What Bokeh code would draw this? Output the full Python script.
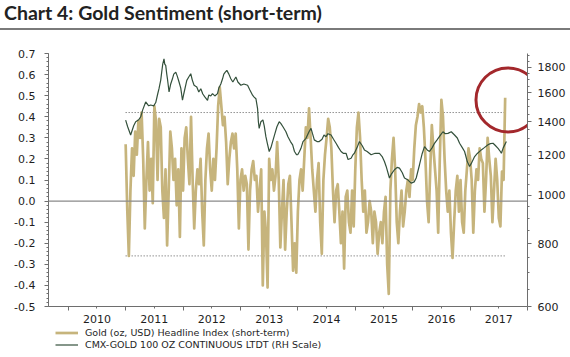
import numpy as np
from bokeh.plotting import figure
from bokeh.models import (Range1d, LogScale, LinearAxis, LogAxis, FixedTicker,
                          NumeralTickFormatter, CustomJSTickFormatter, Span, Div,
                          Legend, LegendItem, ColumnDataSource)
from bokeh.layouts import column
from bokeh.embed import file_html
from bokeh.resources import INLINE

TITLE = "Chart 4: Gold Sentiment (short-term)"
LEGEND_SENT = "Gold (oz, USD) Headline Index (short-term)"
LEGEND_GOLD = "CMX-GOLD 100 OZ CONTINUOUS LTDT (RH Scale)"

# Sentiment index, ~36 readings per calendar year (evenly spaced within the year)
sent_2011 = [0.27, -0.04, -0.26, 0.05, 0.25, 0.12, 0.33, 0.22, 0.38, 0.30, 0.42, 0.20,
             -0.13, 0.10, 0.28, 0.05, 0.20, -0.01, 0.45, 0.38, 0.10, 0.39, 0.35, 0.05,
             -0.08, 0.15, -0.21, 0.05, 0.33, 0.25, 0.10, 0.20, -0.02, 0.15, -0.17, 0.25]
sent_2012 = [0.05, 0.30, 0.35, 0.20, 0.08, 0.40, 0.10, -0.13, 0.05, 0.15, 0.08, 0.20,
             -0.05, -0.21, 0.10, 0.25, 0.32, 0.15, 0.05, 0.20, 0.10, 0.25, 0.45, 0.54,
             0.45, 0.36, 0.40, 0.28, 0.08, 0.20, 0.28, 0.32, 0.25, 0.32, 0.15, -0.13]
sent_2013 = [0.10, 0.15, 0.05, 0.12, 0.08, -0.23, 0.05, 0.15, 0.19, 0.10, 0.12, -0.05,
             0.05, 0.15, -0.40, -0.05, -0.15, -0.41, 0.20, 0.10, 0.15, 0.05, 0.12, 0.28,
             0.10, -0.22, -0.05, 0.10, -0.23, -0.05, 0.08, 0.12, -0.10, -0.33, -0.20, -0.34]
sent_2014 = [-0.05, 0.10, 0.15, 0.05, 0.20, 0.35, 0.30, 0.44, 0.30, 0.15, 0.05, -0.05,
             0.10, 0.18, -0.10, -0.25, 0.10, 0.22, 0.30, 0.39, 0.35, 0.25, 0.05, -0.10,
             0.05, 0.08, -0.05, -0.20, -0.05, -0.32, 0.02, 0.05, -0.10, -0.15, 0.05, -0.12]
sent_2015 = [0.15, 0.35, 0.42, 0.30, 0.10, -0.05, 0.05, -0.15, -0.10, 0.00, -0.05, -0.20,
             -0.05, -0.10, -0.25, -0.15, -0.10, -0.20, -0.05, 0.02, -0.30, -0.44, 0.05, 0.20,
             0.30, 0.15, -0.10, -0.20, -0.05, 0.05, -0.12, -0.05, 0.05, 0.10, 0.02, 0.15]
sent_2016 = [0.10, 0.25, 0.36, 0.40, 0.46, 0.42, 0.45, 0.35, 0.20, 0.00, -0.10, 0.15,
             0.36, 0.25, 0.15, 0.05, -0.15, 0.20, 0.48, 0.40, 0.20, 0.05, -0.05, 0.05,
             -0.15, -0.27, -0.10, 0.05, 0.12, -0.05, 0.10, -0.10, -0.15, 0.05, 0.15, 0.25]
sent_2017 = [0.20, 0.10, -0.15, 0.05, 0.15, 0.10, 0.25, 0.20, 0.18, -0.05, 0.10, 0.30,
             0.20, 0.12, -0.10, 0.05, 0.20, 0.10, -0.08, -0.12, 0.14, 0.10, 0.49]
sent_years = {2011: sent_2011, 2012: sent_2012, 2013: sent_2013, 2014: sent_2014,
              2015: sent_2015, 2016: sent_2016, 2017: sent_2017}

# Thresholds (dotted lines)
band_start, band_end = 2011.0, 2017.63
band_upper = 0.42
band_lower = -0.26

# latest reading highlighted by the red circle
highlight_t, highlight_v = 2017.66, 0.48

# CMX gold price (USD/oz), decimal-year dates
gold_t_2011 = [2011.000, 2011.035, 2011.087, 2011.140, 2011.175, 2011.227, 2011.262, 2011.297,
               2011.349, 2011.401, 2011.436, 2011.489, 2011.524, 2011.558, 2011.581, 2011.611,
               2011.628, 2011.646, 2011.668, 2011.681, 2011.698, 2011.716, 2011.728, 2011.756,
               2011.785, 2011.815, 2011.838, 2011.873, 2011.899, 2011.930, 2011.960, 2011.990]
gold_p_2011 = [1411, 1369, 1318, 1375, 1401, 1413, 1433, 1479, 1534, 1507, 1513, 1507,
               1530, 1591, 1630, 1696, 1759, 1825, 1869, 1825, 1814, 1743, 1706, 1606,
               1666, 1706, 1743, 1759, 1727, 1681, 1635, 1546]
gold_t_2012 = [2012.012, 2012.065, 2012.099, 2012.134, 2012.161, 2012.192, 2012.239, 2012.274,
               2012.309, 2012.344, 2012.379, 2012.426, 2012.449, 2012.483, 2012.513, 2012.553,
               2012.600, 2012.623, 2012.658, 2012.688, 2012.710, 2012.736, 2012.763, 2012.798,
               2012.832, 2012.867, 2012.920, 2012.955]
gold_p_2012 = [1591, 1694, 1720, 1746, 1696, 1656, 1643, 1606, 1630, 1591, 1570, 1546,
               1584, 1577, 1594, 1577, 1594, 1635, 1666, 1706, 1743, 1759, 1773, 1743,
               1706, 1681, 1720, 1681]
gold_t_2013 = [2013.007, 2013.059, 2013.124, 2013.164, 2013.211, 2013.234, 2013.269, 2013.298,
               2013.312, 2013.326, 2013.356, 2013.391, 2013.414, 2013.443, 2013.469, 2013.501,
               2013.531, 2013.560, 2013.600, 2013.635, 2013.675, 2013.705, 2013.740, 2013.792,
               2013.827, 2013.871, 2013.909, 2013.941, 2013.976, 2013.997]
gold_p_2013 = [1656, 1666, 1656, 1621, 1582, 1570, 1557, 1488, 1401, 1359, 1401, 1413,
               1375, 1308, 1267, 1222, 1244, 1279, 1326, 1369, 1401, 1389, 1369, 1338,
               1308, 1279, 1260, 1222, 1205, 1204]
gold_t_2014 = [2014.028, 2014.054, 2014.089, 2014.141, 2014.194, 2014.229, 2014.255, 2014.286,
               2014.333, 2014.373, 2014.421, 2014.455, 2014.490, 2014.525, 2014.578, 2014.621,
               2014.665, 2014.709, 2014.752, 2014.796, 2014.839, 2014.874, 2014.927, 2014.962,
               2014.984]
gold_p_2014 = [1222, 1240, 1279, 1298, 1338, 1359, 1326, 1289, 1279, 1279, 1293, 1318,
               1308, 1326, 1318, 1293, 1269, 1244, 1222, 1211, 1212, 1178, 1185, 1205, 1212]
gold_t_2015 = [2015.031, 2015.072, 2015.119, 2015.159, 2015.206, 2015.276, 2015.346, 2015.421,
               2015.468, 2015.508, 2015.538, 2015.595, 2015.625, 2015.682, 2015.730, 2015.770,
               2015.817, 2015.857, 2015.904, 2015.974]
gold_p_2015 = [1244, 1279, 1256, 1231, 1222, 1204, 1212, 1212, 1194, 1167, 1141, 1082,
               1100, 1124, 1136, 1132, 1110, 1082, 1075, 1057]
gold_t_2016 = [2016.026, 2016.061, 2016.119, 2016.166, 2016.206, 2016.253, 2016.293, 2016.340,
               2016.380, 2016.428, 2016.480, 2016.527, 2016.567, 2016.614, 2016.672, 2016.729,
               2016.777, 2016.817, 2016.864, 2016.904, 2016.951, 2016.991]
gold_p_2016 = [1063, 1082, 1150, 1211, 1250, 1231, 1222, 1244, 1269, 1290, 1316, 1338,
               1326, 1328, 1338, 1318, 1300, 1269, 1244, 1222, 1167, 1141]
gold_t_2017 = [2017.021, 2017.079, 2017.126, 2017.195, 2017.248, 2017.312, 2017.353, 2017.400,
               2017.440, 2017.487, 2017.527, 2017.545, 2017.579, 2017.632]
gold_p_2017 = [1157, 1194, 1211, 1231, 1244, 1260, 1267, 1269, 1256, 1240, 1222, 1212,
               1244, 1279]

x_years = [2010, 2011, 2012, 2013, 2014, 2015, 2016, 2017]
left_ticks = [-0.5, -0.4, -0.3, -0.2, -0.1, 0.0, 0.1, 0.2, 0.3, 0.4, 0.5, 0.6, 0.7]
right_ticks = [600, 800, 1000, 1200, 1400, 1600, 1800]

# ---------- build sources ----------
sent_t, sent_v = [], []
for yr, vals in sent_years.items():
    for k, v in enumerate(vals):
        sent_t.append(yr + k / 36.0)
        sent_v.append(v)
sent_src = ColumnDataSource(dict(t=sent_t, v=sent_v))

gold_t = (gold_t_2011 + gold_t_2012 + gold_t_2013 + gold_t_2014 + gold_t_2015
          + gold_t_2016 + gold_t_2017)
gold_p = (gold_p_2011 + gold_p_2012 + gold_p_2013 + gold_p_2014 + gold_p_2015
          + gold_p_2016 + gold_p_2017)
gold_src = ColumnDataSource(dict(t=gold_t, p=gold_p))

FONT = "DejaVu Sans"
TAN = "#c6b47c"
GREEN = "#33503b"
TXT = "#1e1e1e"
AXC = "#6e6e6e"

# ---------- header (title with rule beneath) ----------
header = Div(text=TITLE, width=570, height=30, margin=0,
             styles={"font-family": "Lato", "font-weight": "bold", "font-size": "19.5px",
                     "color": "#222222", "border-bottom": "2px solid #7a7a7a",
                     "box-sizing": "border-box", "padding-left": "4px",
                     "line-height": "25px", "white-space": "nowrap"})

# ---------- main plot ----------
p = figure(width=570, height=298, x_range=Range1d(2009.656, 2018.0),
           y_range=Range1d(-0.5, 0.7),
           output_backend="svg", toolbar_location=None, title=None,
           x_axis_type=None, y_axis_type=None, outline_line_color=None,
           min_border_left=48, min_border_right=43, min_border_top=23, min_border_bottom=22)
p.grid.visible = False
p.extra_y_ranges = {"gold": Range1d(600, 1916)}
p.extra_y_scales = {"gold": LogScale()}

xaxis = LinearAxis(ticker=FixedTicker(ticks=[y + 0.5 for y in x_years],
                                      minor_ticks=x_years + [2018]),
                   formatter=CustomJSTickFormatter(code="return String(Math.floor(tick));"))
xaxis.major_tick_out = 2
xaxis.major_tick_in = 0
xaxis.minor_tick_out = 4
xaxis.minor_tick_in = 0
p.add_layout(xaxis, "below")

minor_left = [float(v) for v in np.round(np.arange(-0.5, 0.7001, 0.02), 2)]
yaxis = LinearAxis(ticker=FixedTicker(ticks=left_ticks, minor_ticks=minor_left),
                   formatter=NumeralTickFormatter(format="0.0"))
yaxis.major_tick_out = 4
yaxis.major_tick_in = 0
yaxis.minor_tick_out = 2
yaxis.minor_tick_in = 0
yaxis.major_label_standoff = 9
p.add_layout(yaxis, "left")

minor_right = list(range(650, 1901, 50))
raxis = LogAxis(y_range_name="gold",
                ticker=FixedTicker(ticks=right_ticks, minor_ticks=minor_right),
                formatter=NumeralTickFormatter(format="0"))
raxis.major_tick_out = 4
raxis.major_tick_in = 0
raxis.minor_tick_out = 2
raxis.minor_tick_in = 0
raxis.major_label_standoff = 6
p.add_layout(raxis, "right")

for ax in [xaxis, yaxis, raxis]:
    ax.axis_line_color = AXC
    ax.major_tick_line_color = AXC
    ax.minor_tick_line_color = AXC
    ax.major_label_text_font = FONT
    ax.major_label_text_font_size = "11px"
    ax.major_label_text_color = TXT
xaxis.major_label_standoff = 4

p.add_layout(Span(location=0, dimension="width", line_color="#8a8a8a", line_width=1.2))
p.line(x=[band_start, band_end], y=[band_upper, band_upper], line_color="#5a5a5a",
       line_width=1, line_dash="1 2")
p.line(x=[band_start, band_end], y=[band_lower, band_lower], line_color="#5a5a5a",
       line_width=1, line_dash="1 2")

p.line("t", "v", source=sent_src, line_color=TAN, line_width=2.7, line_join="round")
p.line("t", "p", source=gold_src, y_range_name="gold", line_color=GREEN, line_width=1.2)

p.scatter(x=[highlight_t], y=[highlight_v], marker="circle", size=64, fill_color=None,
          line_color="#a3282c", line_width=3)

# ---------- footer with legend (same series, outside this panel's visible range) ----------
foot = figure(width=570, height=29, x_range=Range1d(0, 1), y_range=Range1d(0, 1),
              output_backend="svg", toolbar_location=None, title=None,
              x_axis_type=None, y_axis_type=None, outline_line_color=None,
              min_border_left=48, min_border_right=43, min_border_top=0, min_border_bottom=0)
foot.grid.visible = False
leg_sent = foot.line("t", "v", source=sent_src, line_color=TAN, line_width=2.7)
leg_gold = foot.line("t", "p", source=gold_src, line_color=GREEN, line_width=1.2)


def make_legend(label, renderer, loc):
    lg = Legend(items=[LegendItem(label=label, renderers=[renderer])],
                location=loc, orientation="vertical")
    lg.label_text_font = FONT
    lg.label_text_font_size = "9.5px"
    lg.label_text_color = TXT
    lg.label_height = 9
    lg.glyph_height = 9
    lg.glyph_width = 23
    lg.label_standoff = 7
    lg.spacing = 0
    lg.padding = 0
    lg.margin = 0
    lg.border_line_color = None
    lg.background_fill_alpha = 0
    return lg


foot.add_layout(make_legend(LEGEND_SENT, leg_sent, (7, 19)))
foot.add_layout(make_legend(LEGEND_GOLD, leg_gold, (7, 7)))

layout = column(header, p, foot, spacing=0)
open("out.html", "w").write(file_html(layout, INLINE))
